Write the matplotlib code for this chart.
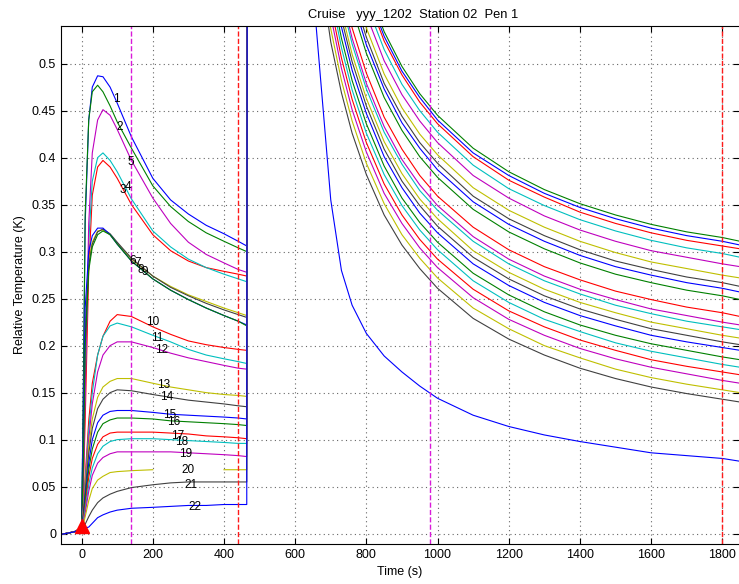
import numpy as np
import matplotlib
matplotlib.use("Agg")
import matplotlib.pyplot as plt
from matplotlib.ticker import FuncFormatter

plt.rcParams['font.family'] = ['Liberation Sans', 'DejaVu Sans']

# Frictional heating after penetration (t = 0), sensors 1..22
friction_time = [-60, -20, 0, 5, 10, 20, 30, 45, 60, 80, 100, 140, 200, 250, 300, 350, 400, 440, 464]
nan = np.nan
friction_T = [
    [-0.001, 0.002, 0.006, 0.15, 0.33, 0.44, 0.475, 0.487, 0.486, 0.475, 0.458, 0.422, 0.378, 0.355, 0.340, 0.328, 0.319, 0.311, 0.306],
    [-0.001, 0.002, 0.006, 0.16, 0.34, 0.44, 0.470, 0.477, 0.470, 0.455, 0.438, 0.410, 0.370, 0.348, 0.332, 0.320, 0.311, 0.304, 0.300],
    [-0.001, 0.002, 0.006, 0.05, 0.12, 0.28, 0.360, 0.390, 0.397, 0.390, 0.378, 0.350, 0.318, 0.301, 0.290, 0.283, 0.279, 0.276, 0.274],
    [-0.001, 0.002, 0.006, 0.07, 0.16, 0.31, 0.375, 0.400, 0.405, 0.397, 0.385, 0.356, 0.322, 0.305, 0.292, 0.283, 0.276, 0.271, 0.268],
    [-0.001, 0.002, 0.006, 0.06, 0.15, 0.33, 0.405, 0.440, 0.451, 0.445, 0.430, 0.397, 0.357, 0.330, 0.310, 0.297, 0.288, 0.281, 0.278],
    [-0.001, 0.002, 0.006, 0.10, 0.22, 0.29, 0.310, 0.322, 0.323, 0.318, 0.309, 0.292, 0.274, 0.263, 0.254, 0.247, 0.240, 0.235, 0.232],
    [-0.001, 0.002, 0.006, 0.09, 0.21, 0.285, 0.308, 0.321, 0.324, 0.319, 0.310, 0.293, 0.274, 0.262, 0.253, 0.245, 0.238, 0.233, 0.230],
    [-0.001, 0.002, 0.006, 0.12, 0.24, 0.30, 0.317, 0.325, 0.325, 0.318, 0.308, 0.290, 0.271, 0.259, 0.249, 0.240, 0.232, 0.226, 0.222],
    [-0.001, 0.002, 0.006, 0.08, 0.20, 0.28, 0.305, 0.318, 0.322, 0.318, 0.308, 0.290, 0.271, 0.259, 0.249, 0.240, 0.232, 0.226, 0.221],
    [-0.001, 0.002, 0.006, 0.03, 0.06, 0.12, 0.160, 0.190, 0.210, 0.226, 0.233, 0.231, 0.220, 0.212, 0.205, 0.201, 0.198, 0.196, 0.195],
    [-0.001, 0.002, 0.006, 0.028, 0.055, 0.11, 0.150, 0.190, 0.210, 0.221, 0.224, 0.220, 0.211, 0.204, 0.196, 0.190, 0.186, 0.183, 0.181],
    [-0.001, 0.002, 0.006, 0.025, 0.05, 0.10, 0.138, 0.172, 0.190, 0.200, 0.204, 0.204, 0.198, 0.192, 0.187, 0.183, 0.179, 0.176, 0.175],
    [-0.001, 0.002, 0.006, 0.024, 0.05, 0.092, 0.122, 0.145, 0.156, 0.162, 0.165, 0.165, 0.160, 0.156, 0.153, 0.150, 0.148, 0.147, 0.146],
    [-0.001, 0.002, 0.006, 0.022, 0.045, 0.085, 0.112, 0.133, 0.143, 0.150, 0.153, 0.152, 0.148, 0.145, 0.142, 0.140, 0.138, 0.136, 0.135],
    [-0.001, 0.002, 0.006, 0.02, 0.04, 0.075, 0.10, 0.118, 0.126, 0.130, 0.131, 0.131, 0.129, 0.127, 0.126, 0.125, 0.124, 0.123, 0.122],
    [-0.001, 0.002, 0.006, 0.018, 0.035, 0.068, 0.09, 0.108, 0.117, 0.121, 0.123, 0.123, 0.122, 0.120, 0.119, 0.118, 0.117, 0.116, 0.115],
    [-0.001, 0.002, 0.006, 0.016, 0.03, 0.06, 0.08, 0.095, 0.103, 0.107, 0.108, 0.108, 0.108, 0.107, 0.106, 0.104, 0.103, 0.102, 0.101],
    [-0.001, 0.002, 0.006, 0.014, 0.026, 0.052, 0.07, 0.085, 0.093, 0.098, 0.100, 0.101, 0.101, 0.100, 0.099, 0.098, 0.097, 0.096, 0.096],
    [-0.001, 0.002, 0.006, 0.012, 0.022, 0.045, 0.062, 0.075, 0.081, 0.085, 0.087, 0.087, 0.087, 0.087, 0.086, 0.085, 0.084, 0.083, 0.082],
    [-0.001, 0.002, 0.006, 0.01, 0.018, 0.035, 0.048, 0.057, 0.061, 0.065, 0.066, 0.067, 0.068, nan, nan, nan, 0.068, 0.068, 0.068],
    [-0.001, 0.002, 0.006, 0.008, 0.01, 0.018, 0.025, 0.033, 0.038, 0.042, 0.045, 0.049, 0.052, 0.054, 0.055, 0.055, 0.055, 0.055, 0.055],
    [-0.001, 0.002, 0.005, 0.005, 0.006, 0.007, 0.011, 0.017, 0.020, 0.023, 0.025, 0.027, 0.028, 0.029, 0.030, 0.030, 0.031, 0.031, 0.031],
]

# Heat pulse (goes far off scale)
pulse_time = 470
pulse_T = 3.0

# Decay after the heat pulse
decay_time = [650, 700, 730, 760, 800, 850, 900, 950, 1000, 1100, 1200, 1300, 1400, 1500, 1600, 1700, 1800, 1850]
decay_T = [
    [0.911, 0.747, 0.682, 0.631, 0.579, 0.529, 0.492, 0.464, 0.440, 0.405, 0.381, 0.362, 0.347, 0.335, 0.325, 0.317, 0.311, 0.307],
    [0.918, 0.753, 0.687, 0.636, 0.584, 0.534, 0.497, 0.468, 0.445, 0.410, 0.385, 0.366, 0.351, 0.339, 0.329, 0.321, 0.315, 0.311],
    [0.905, 0.742, 0.676, 0.626, 0.574, 0.524, 0.488, 0.459, 0.436, 0.401, 0.376, 0.358, 0.342, 0.330, 0.320, 0.312, 0.306, 0.303],
    [0.892, 0.730, 0.665, 0.615, 0.564, 0.515, 0.478, 0.450, 0.427, 0.392, 0.367, 0.349, 0.334, 0.322, 0.312, 0.304, 0.298, 0.294],
    [0.876, 0.716, 0.652, 0.602, 0.552, 0.503, 0.467, 0.439, 0.416, 0.381, 0.357, 0.338, 0.323, 0.311, 0.301, 0.294, 0.287, 0.284],
    [0.858, 0.700, 0.637, 0.588, 0.538, 0.489, 0.453, 0.425, 0.403, 0.368, 0.344, 0.326, 0.311, 0.299, 0.289, 0.282, 0.275, 0.272],
    [0.844, 0.689, 0.626, 0.577, 0.528, 0.479, 0.444, 0.416, 0.394, 0.359, 0.335, 0.317, 0.302, 0.290, 0.281, 0.273, 0.267, 0.263],
    [0.835, 0.681, 0.618, 0.570, 0.520, 0.473, 0.437, 0.410, 0.387, 0.353, 0.329, 0.311, 0.296, 0.284, 0.275, 0.267, 0.261, 0.257],
    [0.823, 0.670, 0.609, 0.560, 0.511, 0.464, 0.429, 0.401, 0.379, 0.345, 0.321, 0.303, 0.288, 0.276, 0.267, 0.259, 0.253, 0.249],
    [0.796, 0.646, 0.586, 0.538, 0.490, 0.443, 0.409, 0.381, 0.359, 0.326, 0.302, 0.284, 0.270, 0.258, 0.249, 0.241, 0.235, 0.231],
    [0.773, 0.627, 0.567, 0.521, 0.473, 0.427, 0.393, 0.365, 0.344, 0.311, 0.287, 0.269, 0.255, 0.243, 0.234, 0.226, 0.220, 0.217],
    [0.781, 0.633, 0.574, 0.527, 0.479, 0.433, 0.398, 0.371, 0.349, 0.316, 0.292, 0.274, 0.260, 0.249, 0.239, 0.232, 0.225, 0.222],
    [0.760, 0.615, 0.556, 0.510, 0.463, 0.417, 0.383, 0.356, 0.335, 0.301, 0.278, 0.260, 0.246, 0.235, 0.225, 0.218, 0.211, 0.208],
    [0.750, 0.606, 0.548, 0.502, 0.455, 0.409, 0.375, 0.349, 0.327, 0.294, 0.271, 0.253, 0.239, 0.228, 0.218, 0.211, 0.204, 0.201],
    [0.739, 0.597, 0.539, 0.493, 0.447, 0.401, 0.368, 0.341, 0.320, 0.287, 0.264, 0.246, 0.232, 0.221, 0.211, 0.204, 0.198, 0.195],
    [0.725, 0.584, 0.527, 0.482, 0.436, 0.391, 0.357, 0.331, 0.310, 0.277, 0.254, 0.236, 0.222, 0.211, 0.202, 0.195, 0.188, 0.185],
    [0.700, 0.562, 0.506, 0.462, 0.416, 0.372, 0.339, 0.313, 0.292, 0.260, 0.237, 0.220, 0.206, 0.195, 0.185, 0.178, 0.172, 0.169],
    [0.713, 0.574, 0.517, 0.472, 0.426, 0.382, 0.349, 0.323, 0.302, 0.269, 0.246, 0.228, 0.215, 0.203, 0.194, 0.187, 0.180, 0.177],
    [0.687, 0.551, 0.495, 0.451, 0.406, 0.362, 0.330, 0.304, 0.283, 0.251, 0.228, 0.211, 0.197, 0.186, 0.177, 0.170, 0.163, 0.160],
    [0.671, 0.537, 0.482, 0.439, 0.394, 0.351, 0.318, 0.293, 0.272, 0.240, 0.218, 0.200, 0.187, 0.175, 0.166, 0.159, 0.153, 0.150],
    [0.655, 0.523, 0.469, 0.426, 0.382, 0.339, 0.307, 0.282, 0.261, 0.229, 0.207, 0.190, 0.176, 0.165, 0.156, 0.149, 0.143, 0.140],
    [0.580, 0.355, 0.280, 0.243, 0.213, 0.189, 0.172, 0.157, 0.144, 0.126, 0.114, 0.105, 0.098, 0.092, 0.086, 0.083, 0.080, 0.077],
]

# sensor number labels
label_time = [99, 108, 117, 131, 139, 144, 158, 167, 178, 200, 212, 225, 229, 240, 248, 260, 271, 280, 293, 299, 307, 319]
label_T = [0.462, 0.433, 0.366, 0.369, 0.3955, 0.290, 0.288, 0.2805, 0.278, 0.225, 0.208, 0.195,
           0.158, 0.145, 0.126, 0.1185, 0.1037, 0.098, 0.0845, 0.0674, 0.0515, 0.028]

# picked window limits
window_fit = [140, 980]
window_end = [440, 1800]

# MATLAB default line colours b g r c m y k
colors = [(0, 0, 1), (0, 0.5, 0), (1, 0, 0), (0, 0.75, 0.75),
          (0.75, 0, 0.75), (0.75, 0.75, 0), (0.25, 0.25, 0.25)]

fig = plt.figure(figsize=(7.39, 5.84), dpi=100)
ax = fig.add_axes([0.0825, 0.0685, 0.9175, 0.887])

for i in range(22):
    t = friction_time + [pulse_time] + decay_time
    T = friction_T[i] + [pulse_T] + decay_T[i]
    ax.plot(t, T, color=colors[i % 7], lw=0.8)

for i in range(22):
    ax.text(label_time[i], label_T[i], str(i + 1), fontsize=8.5,
            ha='center', va='center')

for x in window_fit:
    ax.axvline(x, color=(0.85, 0.1, 0.85), ls='--', lw=1)
for x in window_end:
    ax.axvline(x, color=(1, 0.1, 0.1), ls='--', lw=1)

# penetration marker
ax.plot([0], [0.008], marker='^', color='red', markersize=10, ls='none')

ax.set_xlim(-58, 1847)
ax.set_ylim(-0.011, 0.54)
ax.set_xticks(np.arange(0, 1801, 200))
ax.set_yticks(np.arange(0, 0.51, 0.05))
ax.yaxis.set_major_formatter(FuncFormatter(lambda v, p: '%g' % round(v, 2)))
ax.grid(True, ls=(0, (1, 3)), color='0.4', lw=0.8)
ax.set_axisbelow(True)
ax.tick_params(direction='in', top=True, right=True, length=4, labelsize=9)
ax.spines['right'].set_visible(False)

ax.set_title('Cruise   yyy_1202  Station 02  Pen 1', fontsize=9.3, pad=6, x=0.52)
ax.set_xlabel('Time (s)', fontsize=9)
ax.set_ylabel('Relative Temperature (K)', fontsize=9)

plt.savefig('out.png', dpi=100)
